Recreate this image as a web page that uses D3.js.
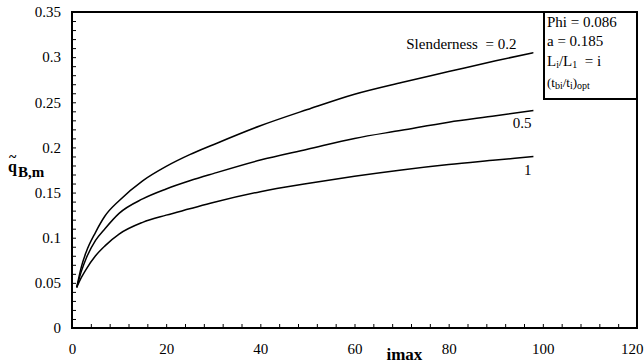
<!DOCTYPE html>
<html>
<head>
<meta charset="utf-8">
<script src="https://cdn.jsdelivr.net/npm/d3@7"></script>
<style>
  body { margin: 0; background: #fff; }
  svg { display: block; }
</style>
</head>
<body>
<div id="chart"></div>
<script>
// imax values and the three curves (one per slenderness)
var imax = [1, 2, 3, 5, 7, 10, 15, 20, 25, 30, 40, 50, 60, 70, 80, 90, 98];
var slender02 = [0.045, 0.068, 0.084, 0.106, 0.124, 0.141, 0.163, 0.179, 0.192, 0.203, 0.224, 0.242, 0.259, 0.272, 0.284, 0.296, 0.305];
var slender05 = [0.045, 0.063, 0.077, 0.097, 0.110, 0.127, 0.143, 0.154, 0.163, 0.171, 0.186, 0.198, 0.210, 0.219, 0.228, 0.235, 0.241];
var slender1  = [0.045, 0.056, 0.065, 0.080, 0.091, 0.104, 0.117, 0.125, 0.132, 0.139, 0.151, 0.160, 0.168, 0.175, 0.181, 0.186, 0.190];
var seriesNames = ["Slenderness  = 0.2", "0.5", "1"];
var xTicks = [0, 20, 40, 60, 80, 100, 120];
var yTicks = [0, 0.05, 0.1, 0.15, 0.2, 0.25, 0.3, 0.35];

var width = 644, height = 363;
var margin = {top: 12, right: 7, bottom: 35, left: 72};
var serif = "Liberation Serif, Times New Roman, serif";

var svg = d3.select("#chart").append("svg")
    .attr("width", width)
    .attr("height", height)
    .attr("font-family", serif);

var x = d3.scaleLinear()
    .domain([0, 120])
    .range([margin.left, width - margin.right]);

var y = d3.scaleLinear()
    .domain([0, 0.35])
    .range([height - margin.bottom, margin.top]);

////////// axes //////////
// minor ticks, pointing inward
svg.append("g")
    .attr("transform", "translate(0," + y(0) + ")")
    .call(d3.axisBottom(x).tickValues(d3.range(0, 121, 4)).tickSize(-4).tickFormat(""))
    .call(function(g) { g.select(".domain").remove(); });

svg.append("g")
    .attr("transform", "translate(" + x(0) + ",0)")
    .call(d3.axisLeft(y).tickValues(d3.range(0, 36).map(function(d) { return d / 100; })).tickSize(-4).tickFormat(""))
    .call(function(g) { g.select(".domain").remove(); });

// labelled axes
svg.append("g")
    .attr("transform", "translate(0," + y(0) + ")")
    .call(d3.axisBottom(x).tickValues(xTicks).tickSize(0).tickPadding(15).tickFormat(d3.format("d")))
    .call(function(g) {
      g.select(".domain").remove();
      g.attr("font-family", serif).attr("font-size", 15);
      g.selectAll("text").filter(function(d) { return d === 120; })
          .attr("text-anchor", "end")
          .attr("x", 6);
    });

svg.append("g")
    .attr("transform", "translate(" + x(0) + ",0)")
    .call(d3.axisLeft(y).tickValues(yTicks).tickSize(0).tickPadding(11).tickFormat(function(d) { return String(+d.toFixed(2)); }))
    .call(function(g) {
      g.select(".domain").remove();
      g.attr("font-family", serif).attr("font-size", 15);
    });

// frame
svg.append("rect")
    .attr("x", x(0))
    .attr("y", y(0.35))
    .attr("width", x(120) - x(0))
    .attr("height", y(0) - y(0.35))
    .attr("fill", "none")
    .attr("stroke", "#000")
    .attr("stroke-width", 1.2)
    .attr("shape-rendering", "crispEdges");

////////// curves //////////
var line = d3.line()
    .x(function(d) { return x(d[0]); })
    .y(function(d) { return y(d[1]); })
    .curve(d3.curveMonotoneX);

var series = [slender02, slender05, slender1];

svg.selectAll(".curve")
    .data(series)
    .enter()
    .append("path")
    .attr("class", "curve")
    .attr("fill", "none")
    .attr("stroke", "#000")
    .attr("stroke-width", 1.5)
    .attr("d", function(s) { return line(imax.map(function(v, i) { return [v, s[i]]; })); });

// curve labels, placed relative to the curve ends
var last = imax.length - 1;
svg.append("text")
    .attr("x", x(imax[last]) - 17)
    .attr("y", y(slender02[last]) - 4)
    .attr("text-anchor", "end")
    .attr("font-size", 15)
    .style("white-space", "pre")
    .text(seriesNames[0]);

svg.append("text")
    .attr("x", x(imax[last]) - 2)
    .attr("y", y(slender05[last]) + 18)
    .attr("text-anchor", "end")
    .attr("font-size", 15)
    .text(seriesNames[1]);

svg.append("text")
    .attr("x", x(imax[last]) - 2)
    .attr("y", y(slender1[last]) + 19)
    .attr("text-anchor", "end")
    .attr("font-size", 15)
    .text(seriesNames[2]);

////////// axis titles //////////
svg.append("text")
    .attr("x", x(70.6))
    .attr("y", 360)
    .attr("text-anchor", "middle")
    .attr("font-size", 17)
    .attr("font-weight", "bold")
    .text("imax");

var ylab = svg.append("g").attr("transform", "translate(8,172)");
ylab.append("text")
    .attr("x", 1)
    .attr("y", -10)
    .attr("font-size", 14)
    .attr("font-weight", "bold")
    .text("~");
ylab.append("text")
    .attr("x", 0)
    .attr("y", 0)
    .attr("font-size", 16)
    .attr("font-weight", "bold")
    .text("q");
ylab.append("text")
    .attr("x", 10)
    .attr("y", 5)
    .attr("font-size", 15)
    .attr("font-weight", "bold")
    .text("B,m");

////////// parameter box //////////
var box = svg.append("g").attr("transform", "translate(544,12)");
box.append("rect")
    .attr("width", x(120) - 544)
    .attr("height", 87)
    .attr("fill", "#fff")
    .attr("stroke", "#000")
    .attr("stroke-width", 1.2)
    .attr("shape-rendering", "crispEdges");

box.append("text").attr("x", 3).attr("y", 15).attr("font-size", 15).text("Phi = 0.086");
box.append("text").attr("x", 3).attr("y", 34).attr("font-size", 15).text("a = 0.185");

var t3 = box.append("text").attr("x", 3).attr("y", 54).attr("font-size", 15);
t3.append("tspan").text("L");
t3.append("tspan").attr("dy", 2).attr("font-size", 10).text("i");
t3.append("tspan").attr("dy", -2).text("/L");
t3.append("tspan").attr("dy", 2).attr("font-size", 10).text("1");
t3.append("tspan").attr("dy", -2).style("white-space", "pre").text("  = i");

var t4 = box.append("text").attr("x", 3).attr("y", 75).attr("font-size", 13);
t4.append("tspan").text("(t");
t4.append("tspan").attr("dy", 2).attr("font-size", 10).text("bi");
t4.append("tspan").attr("dy", -2).text("/t");
t4.append("tspan").attr("dy", 2).attr("font-size", 10).text("i");
t4.append("tspan").attr("dy", -2).text(")");
t4.append("tspan").attr("dy", 2).attr("font-size", 10).text("opt");
</script>
</body>
</html>
